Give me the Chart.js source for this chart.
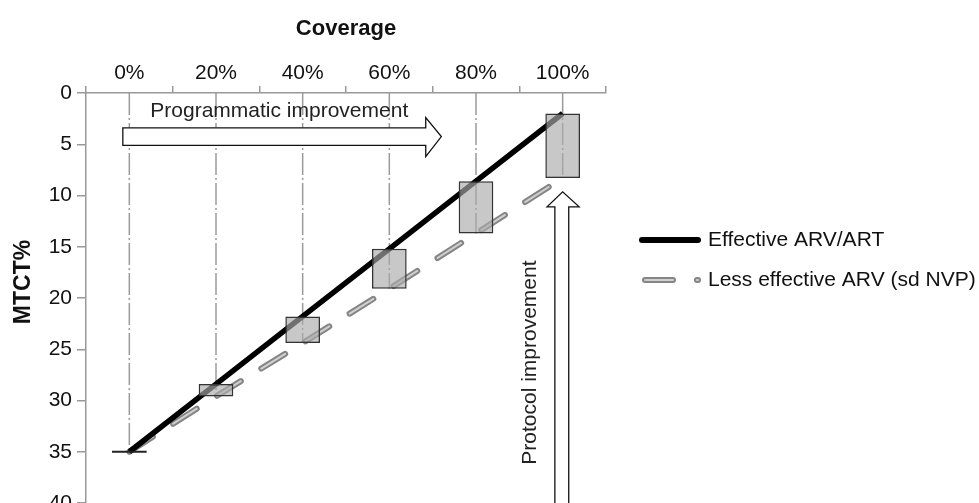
<!DOCTYPE html>
<html>
<head>
<meta charset="utf-8">
<script src="https://cdn.jsdelivr.net/npm/chart.js@4"></script>
<style>
  html, body { margin: 0; padding: 0; background: #fff; overflow: hidden; }
  canvas { display: block; }
</style>
</head>
<body>
<canvas id="mtct_chart" width="979" height="540"></canvas>
<script>
const coverage = ['0%', '20%', '40%', '60%', '80%', '100%'];
const effective = [35, 28.4, 21.8, 15.2, 8.6, 2];
const lessEffective = [35, 29.6, 24.4, 19.1, 13.7, 8.3];
const yTicks = [0, 5, 10, 15, 20, 25, 30, 35, 40];

const legendItems = ['Effective ARV/ART', 'Less effective ARV (sd NVP)'];

const FONT = '"Liberation Sans", Arial, sans-serif';

// hollow arrow outline, points in [index, value] data units
const drawArrow = (ctx, xs, ys, pts) => {
  ctx.beginPath();
  pts.forEach(([i, v], k) => {
    const px = xs.getPixelForValue(i);
    const py = ys.getPixelForValue(v);
    if (k === 0) ctx.moveTo(px, py); else ctx.lineTo(px, py);
  });
  ctx.closePath();
  ctx.fillStyle = '#fff';
  ctx.fill();
  ctx.lineWidth = 1.3;
  ctx.strokeStyle = '#111';
  ctx.stroke();
};

const dropLines = {
  id: 'dropLines',
  beforeDatasetsDraw(chart) {
    const {ctx, scales: {x, y}} = chart;
    ctx.save();
    ctx.strokeStyle = '#9a9a9a';
    ctx.lineWidth = 1.5;
    ctx.setLineDash([22, 3, 2, 3]);
    lessEffective.forEach((v, i) => {
      const px = x.getPixelForValue(i);
      ctx.beginPath();
      ctx.moveTo(px, y.getPixelForValue(0));
      ctx.lineTo(px, y.getPixelForValue(v));
      ctx.stroke();
    });
    ctx.restore();
  }
};

const extras = {
  id: 'extras',
  afterDatasetsDraw(chart) {
    const {ctx, scales: {x, y}} = chart;
    ctx.save();
    // flat boxes (zero range) show as a cap line
    const meta = chart.getDatasetMeta(0);
    meta.data.forEach(bar => {
      const {x: bx, y: by, base, width} = bar.getProps(['x', 'y', 'base', 'width'], true);
      if (Math.abs(base - by) < 1) {
        ctx.beginPath();
        ctx.moveTo(bx - width / 2, by);
        ctx.lineTo(bx + width / 2, by);
        ctx.lineWidth = 2;
        ctx.strokeStyle = '#222';
        ctx.stroke();
      }
    });

    // Programmatic improvement arrow
    drawArrow(ctx, x, y, [
      [-0.075, 3.4], [3.42, 3.4], [3.42, 2.4], [3.6, 4.25],
      [3.42, 6.2], [3.42, 5.1], [-0.075, 5.1]
    ]);
    ctx.fillStyle = '#222';
    ctx.font = '21px ' + FONT;
    ctx.textAlign = 'center';
    ctx.textBaseline = 'middle';
    ctx.fillText('Programmatic improvement', x.getPixelForValue(1.73), y.getPixelForValue(1.8));

    // Protocol improvement arrow
    drawArrow(ctx, x, y, [
      [4.91, 46], [4.91, 11.1], [4.82, 11.1], [5.0, 9.64],
      [5.19, 11.1], [5.07, 11.1], [5.07, 46]
    ]);
    ctx.translate(x.getPixelForValue(4.62), y.getPixelForValue(26.3));
    ctx.rotate(-Math.PI / 2);
    ctx.fillStyle = '#222';
    ctx.fillText('Protocol improvement', 0, 0);
    ctx.restore();
  },
  afterDraw(chart) {
    const {ctx, chartArea} = chart;
    const x0 = chartArea.right + 34;
    const rows = [240, 280];
    ctx.save();
    // y axis title
    ctx.save();
    ctx.translate(24, 282);
    ctx.rotate(-Math.PI / 2);
    ctx.fillStyle = '#111';
    ctx.font = 'bold 23px ' + FONT;
    ctx.textAlign = 'center';
    ctx.textBaseline = 'middle';
    ctx.fillText('MTCT%', 0, 0);
    ctx.restore();

    ctx.lineCap = 'round';
    // effective sample
    ctx.beginPath();
    ctx.moveTo(x0 + 2, rows[0]);
    ctx.lineTo(x0 + 58, rows[0]);
    ctx.lineWidth = 6;
    ctx.strokeStyle = '#000';
    ctx.stroke();
    // less effective sample
    ctx.setLineDash([28, 24]);
    ctx.beginPath();
    ctx.moveTo(x0 + 5, rows[1]);
    ctx.lineTo(x0 + 58, rows[1]);
    ctx.lineWidth = 6;
    ctx.strokeStyle = '#858585';
    ctx.stroke();
    ctx.lineWidth = 2;
    ctx.strokeStyle = '#d0d0d0';
    ctx.stroke();
    ctx.setLineDash([]);
    ctx.fillStyle = '#111';
    ctx.font = '21px ' + FONT;
    ctx.textAlign = 'left';
    ctx.textBaseline = 'middle';
    legendItems.forEach((t, i) => ctx.fillText(t, x0 + 68, rows[i]));
    ctx.restore();
  }
};

const lessStyle = {
  type: 'line',
  data: lessEffective,
  pointRadius: 0,
  tension: 0,
  fill: false,
  borderDash: [28, 24],
  borderCapStyle: 'round'
};

new Chart(document.getElementById('mtct_chart'), {
  data: {
    labels: coverage,
    datasets: [
      {
        type: 'bar',
        label: 'range',
        data: effective.map((v, i) => [v, lessEffective[i]]),
        backgroundColor: 'rgba(170,170,170,0.65)',
        borderColor: '#333',
        borderWidth: 1.5,
        borderSkipped: false,
        categoryPercentage: 1,
        barPercentage: 0.4,
        order: 0
      },
      {
        type: 'line',
        label: legendItems[0],
        data: effective,
        borderColor: '#000',
        borderWidth: 5.5,
        pointRadius: 0,
        tension: 0,
        fill: false,
        order: 1
      },
      {...lessStyle, label: 'inner', borderColor: '#d0d0d0', borderWidth: 2, order: 2},
      {...lessStyle, label: legendItems[1], borderColor: '#858585', borderWidth: 6, order: 3}
    ]
  },
  options: {
    responsive: false,
    animation: false,
    layout: {
      padding: {left: 0, top: 0, right: 373, bottom: 37}
    },
    scales: {
      x: {
        type: 'category',
        position: 'top',
        offset: true,
        afterFit: (s) => { s.height = 93; },
        title: {
          display: true,
          text: 'Coverage',
          color: '#111',
          font: {family: FONT, size: 22, weight: 'bold'},
          padding: {top: 16, bottom: 0}
        },
        ticks: {
          color: '#111',
          font: {family: FONT, size: 21},
          padding: 0
        },
        grid: {
          offset: true,
          drawOnChartArea: false,
          drawTicks: true,
          tickLength: 7,
          color: '#999',
          lineWidth: 1.5
        },
        border: {color: '#999', width: 1.5}
      },
      y: {
        type: 'linear',
        reverse: true,
        min: yTicks[0],
        max: yTicks[yTicks.length - 1],
        afterFit: (s) => { s.width = 86; },
        afterBuildTicks: (s) => { s.ticks = yTicks.map(v => ({value: v})); },
        title: {display: false},
        ticks: {
          color: '#111',
          font: {family: FONT, size: 21},
          padding: 5
        },
        grid: {
          drawOnChartArea: false,
          drawTicks: true,
          tickLength: 9,
          color: '#999',
          lineWidth: 1.5
        },
        border: {color: '#999', width: 1.5}
      }
    },
    plugins: {
      legend: {display: false},
      tooltip: {enabled: false}
    }
  },
  plugins: [dropLines, extras]
});
</script>
</body>
</html>
